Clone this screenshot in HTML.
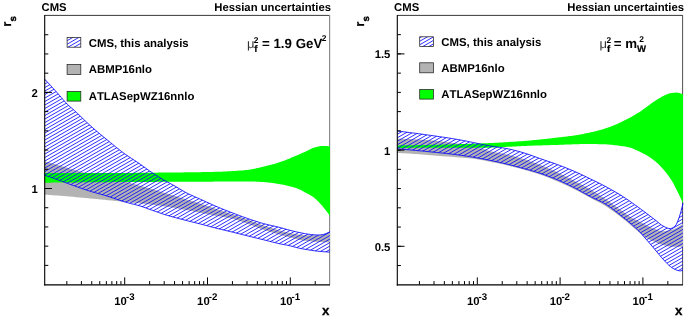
<!DOCTYPE html>
<html><head><meta charset="utf-8"><title>Hessian uncertainties</title>
<style>
html,body{margin:0;padding:0;background:#fff}
svg{display:block;will-change:transform}
text{font-family:"Liberation Sans",sans-serif;font-weight:bold;fill:#000;text-rendering:geometricPrecision;font-kerning:none}
.t{font-size:11.3px}
.lg{font-size:11.4px}
.sup{font-size:9.7px}
.xl{font-size:13.3px;stroke:#000;stroke-width:.3px}
.yl{font-size:12.8px;stroke:#000;stroke-width:.25px}
.ysub{font-size:9.6px;stroke:#000;stroke-width:.35px}
.big{font-size:13.3px}
.sup2{font-size:8.4px}
.sub2{font-size:9.6px;stroke:#000;stroke-width:.2px}
.mu{font-size:13px;font-weight:normal;fill:#333}
</style></head>
<body>
<svg width="685" height="321" viewBox="0 0 685 321">
<rect width="685" height="321" fill="#fff"/>
<path d="M44.7,15.4H329.60" fill="none" stroke="#222" stroke-width="0.9"/>
<path d="M329.60,15.0V284.6" fill="none" stroke="#8c8c8c" stroke-width="1.2"/>
<path d="M44.70,161.20 L46.20,161.64 L47.70,162.07 L49.20,162.51 L50.70,162.95 L52.20,163.38 L53.70,163.82 L55.20,164.25 L56.70,164.69 L58.20,165.13 L59.70,165.56 L61.20,166.00 L62.70,166.43 L64.20,166.87 L65.70,167.30 L67.20,167.75 L68.70,168.19 L70.20,168.64 L71.70,169.10 L73.20,169.55 L74.70,170.00 L76.20,170.44 L77.70,170.89 L79.20,171.32 L80.70,171.74 L82.20,172.16 L83.70,172.56 L85.20,172.95 L86.70,173.33 L88.20,173.70 L89.70,174.06 L91.20,174.41 L92.70,174.75 L94.20,175.09 L95.70,175.42 L97.20,175.75 L98.70,176.07 L100.20,176.39 L101.70,176.71 L103.20,177.02 L104.70,177.33 L106.20,177.64 L107.70,177.95 L109.20,178.26 L110.70,178.58 L112.20,178.89 L113.70,179.20 L115.20,179.52 L116.70,179.84 L118.20,180.17 L119.70,180.50 L121.20,180.84 L122.70,181.18 L124.20,181.53 L125.70,181.89 L127.20,182.25 L128.70,182.62 L130.20,183.01 L131.70,183.39 L133.20,183.79 L134.70,184.19 L136.20,184.59 L137.70,185.00 L139.20,185.42 L140.70,185.83 L142.20,186.25 L143.70,186.68 L145.20,187.10 L146.70,187.53 L148.20,187.96 L149.70,188.39 L151.20,188.82 L152.70,189.26 L154.20,189.71 L155.70,190.16 L157.20,190.61 L158.70,191.06 L160.20,191.52 L161.70,191.97 L163.20,192.43 L164.70,192.89 L166.20,193.34 L167.70,193.79 L169.20,194.24 L170.70,194.69 L172.20,195.14 L173.70,195.60 L175.20,196.05 L176.70,196.50 L178.20,196.95 L179.70,197.41 L181.20,197.86 L182.70,198.31 L184.20,198.76 L185.70,199.21 L187.20,199.66 L188.70,200.10 L190.20,200.54 L191.70,200.98 L193.20,201.42 L194.70,201.87 L196.20,202.31 L197.70,202.77 L199.20,203.23 L200.70,203.69 L202.20,204.17 L203.70,204.66 L205.20,205.16 L206.70,205.66 L208.20,206.16 L209.70,206.67 L211.20,207.18 L212.70,207.69 L214.20,208.20 L215.70,208.70 L217.20,209.20 L218.70,209.69 L220.20,210.18 L221.70,210.67 L223.20,211.16 L224.70,211.64 L226.20,212.14 L227.70,212.63 L229.20,213.13 L230.70,213.64 L232.20,214.15 L233.70,214.67 L235.20,215.19 L236.70,215.71 L238.20,216.24 L239.70,216.76 L241.20,217.30 L242.70,217.83 L244.20,218.37 L245.70,218.90 L247.20,219.44 L248.70,219.99 L250.20,220.55 L251.70,221.12 L253.20,221.69 L254.70,222.26 L256.20,222.83 L257.70,223.40 L259.20,223.95 L260.70,224.49 L262.20,225.02 L263.70,225.53 L265.20,226.02 L266.70,226.49 L268.20,226.95 L269.70,227.41 L271.20,227.87 L272.70,228.33 L274.20,228.79 L275.70,229.25 L277.20,229.70 L278.70,230.14 L280.20,230.57 L281.70,230.99 L283.20,231.38 L284.70,231.77 L286.20,232.15 L287.70,232.50 L289.20,232.83 L290.70,233.14 L292.20,233.44 L293.70,233.74 L295.20,234.01 L296.70,234.26 L298.20,234.47 L299.70,234.64 L301.20,234.80 L302.70,234.95 L304.20,235.09 L305.70,235.20 L307.20,235.27 L308.70,235.30 L310.20,235.30 L311.70,235.29 L313.20,235.28 L314.70,235.26 L316.20,235.24 L317.70,235.21 L319.20,235.13 L320.70,234.92 L322.20,234.62 L323.70,234.27 L325.20,233.85 L326.70,233.25 L328.20,232.51 L329.70,231.68 L330.00,231.50 L330.00,242.40 L329.70,242.39 L328.20,242.35 L326.70,242.30 L325.20,242.25 L323.70,242.18 L322.20,242.12 L320.70,242.04 L319.20,241.96 L317.70,241.88 L316.20,241.80 L314.70,241.70 L313.20,241.59 L311.70,241.47 L310.20,241.34 L308.70,241.20 L307.20,241.04 L305.70,240.85 L304.20,240.63 L302.70,240.40 L301.20,240.15 L299.70,239.88 L298.20,239.57 L296.70,239.22 L295.20,238.83 L293.70,238.41 L292.20,237.99 L290.70,237.58 L289.20,237.20 L287.70,236.82 L286.20,236.45 L284.70,236.08 L283.20,235.69 L281.70,235.28 L280.20,234.86 L278.70,234.43 L277.20,233.99 L275.70,233.54 L274.20,233.08 L272.70,232.63 L271.20,232.17 L269.70,231.71 L268.20,231.25 L266.70,230.79 L265.20,230.32 L263.70,229.83 L262.20,229.32 L260.70,228.78 L259.20,228.22 L257.70,227.64 L256.20,227.06 L254.70,226.47 L253.20,225.89 L251.70,225.31 L250.20,224.73 L248.70,224.18 L247.20,223.64 L245.70,223.12 L244.20,222.58 L242.70,222.04 L241.20,221.50 L239.70,220.97 L238.20,220.45 L236.70,219.95 L235.20,219.48 L233.70,219.03 L232.20,218.62 L230.70,218.26 L229.20,217.93 L227.70,217.65 L226.20,217.39 L224.70,217.15 L223.20,216.93 L221.70,216.71 L220.20,216.49 L218.70,216.25 L217.20,216.00 L215.70,215.73 L214.20,215.46 L212.70,215.18 L211.20,214.89 L209.70,214.61 L208.20,214.31 L206.70,214.02 L205.20,213.73 L203.70,213.44 L202.20,213.15 L200.70,212.86 L199.20,212.57 L197.70,212.28 L196.20,211.99 L194.70,211.70 L193.20,211.41 L191.70,211.12 L190.20,210.83 L188.70,210.55 L187.20,210.26 L185.70,209.98 L184.20,209.71 L182.70,209.44 L181.20,209.16 L179.70,208.89 L178.20,208.62 L176.70,208.35 L175.20,208.08 L173.70,207.82 L172.20,207.56 L170.70,207.31 L169.20,207.07 L167.70,206.84 L166.20,206.61 L164.70,206.39 L163.20,206.18 L161.70,205.97 L160.20,205.77 L158.70,205.57 L157.20,205.38 L155.70,205.19 L154.20,205.00 L152.70,204.82 L151.20,204.64 L149.70,204.46 L148.20,204.29 L146.70,204.12 L145.20,203.95 L143.70,203.79 L142.20,203.63 L140.70,203.47 L139.20,203.31 L137.70,203.15 L136.20,203.00 L134.70,202.84 L133.20,202.69 L131.70,202.54 L130.20,202.39 L128.70,202.24 L127.20,202.10 L125.70,201.95 L124.20,201.80 L122.70,201.66 L121.20,201.51 L119.70,201.36 L118.20,201.22 L116.70,201.07 L115.20,200.92 L113.70,200.77 L112.20,200.62 L110.70,200.47 L109.20,200.32 L107.70,200.17 L106.20,200.02 L104.70,199.87 L103.20,199.72 L101.70,199.57 L100.20,199.42 L98.70,199.27 L97.20,199.12 L95.70,198.97 L94.20,198.82 L92.70,198.68 L91.20,198.53 L89.70,198.39 L88.20,198.24 L86.70,198.10 L85.20,197.95 L83.70,197.81 L82.20,197.67 L80.70,197.54 L79.20,197.40 L77.70,197.26 L76.20,197.13 L74.70,197.00 L73.20,196.87 L71.70,196.74 L70.20,196.61 L68.70,196.48 L67.20,196.35 L65.70,196.23 L64.20,196.11 L62.70,195.98 L61.20,195.86 L59.70,195.74 L58.20,195.62 L56.70,195.51 L55.20,195.39 L53.70,195.27 L52.20,195.16 L50.70,195.04 L49.20,194.93 L47.70,194.82 L46.20,194.71 L44.70,194.60Z" fill="#b3b3b3"/>
<path d="M44.70,173.10 L46.20,173.10 L47.70,173.10 L49.20,173.10 L50.70,173.10 L52.20,173.10 L53.70,173.10 L55.20,173.10 L56.70,173.10 L58.20,173.10 L59.70,173.10 L61.20,173.10 L62.70,173.10 L64.20,173.10 L65.70,173.10 L67.20,173.10 L68.70,173.10 L70.20,173.10 L71.70,173.10 L73.20,173.10 L74.70,173.10 L76.20,173.10 L77.70,173.10 L79.20,173.10 L80.70,173.10 L82.20,173.10 L83.70,173.10 L85.20,173.10 L86.70,173.10 L88.20,173.10 L89.70,173.10 L91.20,173.10 L92.70,173.10 L94.20,173.10 L95.70,173.10 L97.20,173.10 L98.70,173.10 L100.20,173.10 L101.70,173.10 L103.20,173.10 L104.70,173.09 L106.20,173.09 L107.70,173.08 L109.20,173.08 L110.70,173.07 L112.20,173.06 L113.70,173.05 L115.20,173.04 L116.70,173.03 L118.20,173.02 L119.70,173.01 L121.20,173.00 L122.70,172.98 L124.20,172.97 L125.70,172.96 L127.20,172.94 L128.70,172.93 L130.20,172.91 L131.70,172.89 L133.20,172.88 L134.70,172.86 L136.20,172.85 L137.70,172.83 L139.20,172.81 L140.70,172.80 L142.20,172.78 L143.70,172.77 L145.20,172.75 L146.70,172.73 L148.20,172.72 L149.70,172.70 L151.20,172.69 L152.70,172.67 L154.20,172.66 L155.70,172.64 L157.20,172.63 L158.70,172.62 L160.20,172.60 L161.70,172.59 L163.20,172.57 L164.70,172.56 L166.20,172.55 L167.70,172.53 L169.20,172.52 L170.70,172.50 L172.20,172.49 L173.70,172.47 L175.20,172.46 L176.70,172.44 L178.20,172.43 L179.70,172.41 L181.20,172.39 L182.70,172.38 L184.20,172.36 L185.70,172.34 L187.20,172.32 L188.70,172.30 L190.20,172.28 L191.70,172.26 L193.20,172.24 L194.70,172.22 L196.20,172.20 L197.70,172.17 L199.20,172.15 L200.70,172.13 L202.20,172.10 L203.70,172.07 L205.20,172.05 L206.70,172.02 L208.20,171.99 L209.70,171.96 L211.20,171.93 L212.70,171.90 L214.20,171.86 L215.70,171.83 L217.20,171.80 L218.70,171.75 L220.20,171.70 L221.70,171.64 L223.20,171.57 L224.70,171.49 L226.20,171.41 L227.70,171.33 L229.20,171.24 L230.70,171.16 L232.20,171.08 L233.70,170.99 L235.20,170.91 L236.70,170.81 L238.20,170.72 L239.70,170.62 L241.20,170.50 L242.70,170.38 L244.20,170.25 L245.70,170.11 L247.20,169.96 L248.70,169.77 L250.20,169.54 L251.70,169.28 L253.20,168.99 L254.70,168.68 L256.20,168.34 L257.70,168.00 L259.20,167.65 L260.70,167.29 L262.20,166.93 L263.70,166.58 L265.20,166.22 L266.70,165.86 L268.20,165.49 L269.70,165.11 L271.20,164.71 L272.70,164.31 L274.20,163.89 L275.70,163.45 L277.20,163.01 L278.70,162.54 L280.20,162.07 L281.70,161.56 L283.20,161.03 L284.70,160.46 L286.20,159.87 L287.70,159.26 L289.20,158.64 L290.70,158.00 L292.20,157.35 L293.70,156.70 L295.20,156.06 L296.70,155.41 L298.20,154.77 L299.70,154.13 L301.20,153.47 L302.70,152.80 L304.20,152.13 L305.70,151.45 L307.20,150.72 L308.70,149.94 L310.20,149.15 L311.70,148.44 L313.20,147.85 L314.70,147.41 L316.20,147.00 L317.70,146.63 L319.20,146.32 L320.70,146.10 L322.20,146.00 L323.70,146.00 L325.20,146.02 L326.70,146.05 L328.20,146.13 L329.70,146.27 L330.00,146.30 L330.00,216.20 L329.70,215.76 L328.20,213.58 L326.70,211.50 L325.20,209.51 L323.70,207.63 L322.20,205.87 L320.70,204.17 L319.20,202.53 L317.70,200.97 L316.20,199.53 L314.70,198.24 L313.20,197.12 L311.70,196.12 L310.20,195.22 L308.70,194.37 L307.20,193.56 L305.70,192.75 L304.20,191.93 L302.70,191.10 L301.20,190.29 L299.70,189.54 L298.20,188.88 L296.70,188.33 L295.20,187.83 L293.70,187.37 L292.20,186.93 L290.70,186.52 L289.20,186.13 L287.70,185.77 L286.20,185.43 L284.70,185.11 L283.20,184.81 L281.70,184.53 L280.20,184.27 L278.70,184.01 L277.20,183.76 L275.70,183.52 L274.20,183.29 L272.70,183.07 L271.20,182.86 L269.70,182.67 L268.20,182.50 L266.70,182.35 L265.20,182.22 L263.70,182.11 L262.20,182.01 L260.70,181.92 L259.20,181.83 L257.70,181.74 L256.20,181.67 L254.70,181.59 L253.20,181.53 L251.70,181.48 L250.20,181.44 L248.70,181.41 L247.20,181.40 L245.70,181.40 L244.20,181.40 L242.70,181.40 L241.20,181.40 L239.70,181.40 L238.20,181.40 L236.70,181.40 L235.20,181.40 L233.70,181.40 L232.20,181.40 L230.70,181.40 L229.20,181.40 L227.70,181.41 L226.20,181.44 L224.70,181.46 L223.20,181.49 L221.70,181.53 L220.20,181.56 L218.70,181.58 L217.20,181.60 L215.70,181.61 L214.20,181.62 L212.70,181.63 L211.20,181.64 L209.70,181.65 L208.20,181.66 L206.70,181.67 L205.20,181.68 L203.70,181.69 L202.20,181.70 L200.70,181.70 L199.20,181.71 L197.70,181.72 L196.20,181.72 L194.70,181.73 L193.20,181.74 L191.70,181.74 L190.20,181.75 L188.70,181.75 L187.20,181.76 L185.70,181.77 L184.20,181.77 L182.70,181.78 L181.20,181.78 L179.70,181.79 L178.20,181.79 L176.70,181.80 L175.20,181.80 L173.70,181.81 L172.20,181.81 L170.70,181.82 L169.20,181.82 L167.70,181.83 L166.20,181.83 L164.70,181.84 L163.20,181.84 L161.70,181.85 L160.20,181.85 L158.70,181.86 L157.20,181.87 L155.70,181.87 L154.20,181.88 L152.70,181.89 L151.20,181.89 L149.70,181.90 L148.20,181.91 L146.70,181.92 L145.20,181.93 L143.70,181.93 L142.20,181.94 L140.70,181.95 L139.20,181.96 L137.70,181.97 L136.20,181.97 L134.70,181.98 L133.20,181.99 L131.70,182.00 L130.20,182.01 L128.70,182.02 L127.20,182.02 L125.70,182.03 L124.20,182.04 L122.70,182.05 L121.20,182.06 L119.70,182.07 L118.20,182.08 L116.70,182.09 L115.20,182.10 L113.70,182.11 L112.20,182.12 L110.70,182.13 L109.20,182.14 L107.70,182.15 L106.20,182.16 L104.70,182.17 L103.20,182.18 L101.70,182.19 L100.20,182.20 L98.70,182.21 L97.20,182.22 L95.70,182.23 L94.20,182.24 L92.70,182.25 L91.20,182.27 L89.70,182.28 L88.20,182.29 L86.70,182.30 L85.20,182.31 L83.70,182.33 L82.20,182.34 L80.70,182.35 L79.20,182.37 L77.70,182.38 L76.20,182.39 L74.70,182.40 L73.20,182.42 L71.70,182.43 L70.20,182.45 L68.70,182.46 L67.20,182.47 L65.70,182.49 L64.20,182.50 L62.70,182.52 L61.20,182.53 L59.70,182.55 L58.20,182.56 L56.70,182.58 L55.20,182.59 L53.70,182.61 L52.20,182.62 L50.70,182.64 L49.20,182.65 L47.70,182.67 L46.20,182.68 L44.70,182.70Z" fill="#00ff00"/>
<clipPath id="c44"><path d="M44.70,79.20 L46.20,80.80 L47.70,82.40 L49.20,84.01 L50.70,85.63 L52.20,87.26 L53.70,88.90 L55.20,90.54 L56.70,92.19 L58.20,93.87 L59.70,95.61 L61.20,97.37 L62.70,99.13 L64.20,100.86 L65.70,102.53 L67.20,104.11 L68.70,105.57 L70.20,106.90 L71.70,108.16 L73.20,109.44 L74.70,110.80 L76.20,112.19 L77.70,113.61 L79.20,115.04 L80.70,116.49 L82.20,117.94 L83.70,119.40 L85.20,120.84 L86.70,122.27 L88.20,123.68 L89.70,125.06 L91.20,126.42 L92.70,127.75 L94.20,129.06 L95.70,130.36 L97.20,131.64 L98.70,132.92 L100.20,134.17 L101.70,135.42 L103.20,136.65 L104.70,137.87 L106.20,139.09 L107.70,140.31 L109.20,141.53 L110.70,142.76 L112.20,143.99 L113.70,145.22 L115.20,146.44 L116.70,147.66 L118.20,148.86 L119.70,150.04 L121.20,151.20 L122.70,152.34 L124.20,153.45 L125.70,154.52 L127.20,155.56 L128.70,156.58 L130.20,157.58 L131.70,158.56 L133.20,159.54 L134.70,160.52 L136.20,161.50 L137.70,162.49 L139.20,163.50 L140.70,164.53 L142.20,165.59 L143.70,166.68 L145.20,167.77 L146.70,168.87 L148.20,169.95 L149.70,171.00 L151.20,172.01 L152.70,173.02 L154.20,174.01 L155.70,174.99 L157.20,175.95 L158.70,176.90 L160.20,177.83 L161.70,178.74 L163.20,179.64 L164.70,180.50 L166.20,181.34 L167.70,182.16 L169.20,182.97 L170.70,183.77 L172.20,184.58 L173.70,185.40 L175.20,186.24 L176.70,187.12 L178.20,188.02 L179.70,188.94 L181.20,189.85 L182.70,190.75 L184.20,191.62 L185.70,192.44 L187.20,193.21 L188.70,193.95 L190.20,194.65 L191.70,195.34 L193.20,196.01 L194.70,196.68 L196.20,197.33 L197.70,197.99 L199.20,198.66 L200.70,199.34 L202.20,200.02 L203.70,200.71 L205.20,201.41 L206.70,202.10 L208.20,202.79 L209.70,203.48 L211.20,204.16 L212.70,204.84 L214.20,205.50 L215.70,206.16 L217.20,206.80 L218.70,207.43 L220.20,208.05 L221.70,208.67 L223.20,209.28 L224.70,209.88 L226.20,210.48 L227.70,211.07 L229.20,211.65 L230.70,212.23 L232.20,212.81 L233.70,213.39 L235.20,213.96 L236.70,214.53 L238.20,215.09 L239.70,215.65 L241.20,216.21 L242.70,216.75 L244.20,217.29 L245.70,217.82 L247.20,218.34 L248.70,218.85 L250.20,219.37 L251.70,219.88 L253.20,220.38 L254.70,220.88 L256.20,221.37 L257.70,221.85 L259.20,222.32 L260.70,222.77 L262.20,223.21 L263.70,223.63 L265.20,224.02 L266.70,224.40 L268.20,224.76 L269.70,225.11 L271.20,225.45 L272.70,225.79 L274.20,226.12 L275.70,226.46 L277.20,226.81 L278.70,227.17 L280.20,227.55 L281.70,227.95 L283.20,228.37 L284.70,228.81 L286.20,229.25 L287.70,229.68 L289.20,230.09 L290.70,230.48 L292.20,230.86 L293.70,231.23 L295.20,231.59 L296.70,231.94 L298.20,232.27 L299.70,232.58 L301.20,232.89 L302.70,233.20 L304.20,233.49 L305.70,233.76 L307.20,234.00 L308.70,234.20 L310.20,234.38 L311.70,234.56 L313.20,234.72 L314.70,234.86 L316.20,234.95 L317.70,235.00 L319.20,234.97 L320.70,234.85 L322.20,234.67 L323.70,234.40 L325.20,233.91 L326.70,233.30 L328.20,232.62 L329.70,231.78 L330.00,231.60 L330.00,252.10 L329.70,252.09 L328.20,252.02 L326.70,251.93 L325.20,251.83 L323.70,251.72 L322.20,251.59 L320.70,251.46 L319.20,251.32 L317.70,251.17 L316.20,251.00 L314.70,250.81 L313.20,250.60 L311.70,250.37 L310.20,250.14 L308.70,249.90 L307.20,249.66 L305.70,249.41 L304.20,249.15 L302.70,248.88 L301.20,248.59 L299.70,248.28 L298.20,247.95 L296.70,247.57 L295.20,247.17 L293.70,246.75 L292.20,246.34 L290.70,245.96 L289.20,245.63 L287.70,245.32 L286.20,245.03 L284.70,244.75 L283.20,244.47 L281.70,244.17 L280.20,243.86 L278.70,243.52 L277.20,243.18 L275.70,242.82 L274.20,242.45 L272.70,242.08 L271.20,241.71 L269.70,241.33 L268.20,240.95 L266.70,240.57 L265.20,240.19 L263.70,239.82 L262.20,239.46 L260.70,239.09 L259.20,238.73 L257.70,238.36 L256.20,238.00 L254.70,237.63 L253.20,237.27 L251.70,236.90 L250.20,236.54 L248.70,236.17 L247.20,235.80 L245.70,235.43 L244.20,235.05 L242.70,234.68 L241.20,234.30 L239.70,233.92 L238.20,233.55 L236.70,233.17 L235.20,232.80 L233.70,232.43 L232.20,232.06 L230.70,231.69 L229.20,231.33 L227.70,230.97 L226.20,230.61 L224.70,230.24 L223.20,229.88 L221.70,229.52 L220.20,229.15 L218.70,228.78 L217.20,228.40 L215.70,228.02 L214.20,227.63 L212.70,227.24 L211.20,226.84 L209.70,226.45 L208.20,226.05 L206.70,225.65 L205.20,225.25 L203.70,224.86 L202.20,224.46 L200.70,224.08 L199.20,223.69 L197.70,223.32 L196.20,222.95 L194.70,222.58 L193.20,222.21 L191.70,221.84 L190.20,221.47 L188.70,221.10 L187.20,220.72 L185.70,220.34 L184.20,219.96 L182.70,219.56 L181.20,219.17 L179.70,218.78 L178.20,218.39 L176.70,217.99 L175.20,217.59 L173.70,217.18 L172.20,216.77 L170.70,216.34 L169.20,215.91 L167.70,215.47 L166.20,215.02 L164.70,214.55 L163.20,214.07 L161.70,213.57 L160.20,213.07 L158.70,212.55 L157.20,212.03 L155.70,211.51 L154.20,210.98 L152.70,210.45 L151.20,209.92 L149.70,209.39 L148.20,208.85 L146.70,208.29 L145.20,207.73 L143.70,207.18 L142.20,206.66 L140.70,206.17 L139.20,205.72 L137.70,205.29 L136.20,204.89 L134.70,204.50 L133.20,204.12 L131.70,203.75 L130.20,203.37 L128.70,202.99 L127.20,202.60 L125.70,202.19 L124.20,201.76 L122.70,201.30 L121.20,200.83 L119.70,200.33 L118.20,199.82 L116.70,199.31 L115.20,198.78 L113.70,198.26 L112.20,197.74 L110.70,197.23 L109.20,196.73 L107.70,196.26 L106.20,195.80 L104.70,195.35 L103.20,194.92 L101.70,194.50 L100.20,194.09 L98.70,193.68 L97.20,193.27 L95.70,192.85 L94.20,192.43 L92.70,191.99 L91.20,191.55 L89.70,191.08 L88.20,190.61 L86.70,190.12 L85.20,189.62 L83.70,189.12 L82.20,188.61 L80.70,188.09 L79.20,187.57 L77.70,187.05 L76.20,186.52 L74.70,185.99 L73.20,185.46 L71.70,184.92 L70.20,184.37 L68.70,183.82 L67.20,183.26 L65.70,182.70 L64.20,182.13 L62.70,181.57 L61.20,181.01 L59.70,180.45 L58.20,179.90 L56.70,179.36 L55.20,178.83 L53.70,178.30 L52.20,177.78 L50.70,177.25 L49.20,176.74 L47.70,176.22 L46.20,175.71 L44.70,175.20Z"/></clipPath>
<path d="M44.70,59.60L330.00,-104.02M44.70,63.10L330.00,-100.52M44.70,66.60L330.00,-97.02M44.70,70.10L330.00,-93.52M44.70,73.60L330.00,-90.02M44.70,77.10L330.00,-86.52M44.70,80.60L330.00,-83.02M44.70,84.10L330.00,-79.52M44.70,87.60L330.00,-76.02M44.70,91.10L330.00,-72.52M44.70,94.60L330.00,-69.02M44.70,98.10L330.00,-65.52M44.70,101.60L330.00,-62.02M44.70,105.10L330.00,-58.52M44.70,108.60L330.00,-55.02M44.70,112.10L330.00,-51.52M44.70,115.60L330.00,-48.02M44.70,119.10L330.00,-44.52M44.70,122.60L330.00,-41.02M44.70,126.10L330.00,-37.52M44.70,129.60L330.00,-34.02M44.70,133.10L330.00,-30.52M44.70,136.60L330.00,-27.02M44.70,140.10L330.00,-23.52M44.70,143.60L330.00,-20.02M44.70,147.10L330.00,-16.52M44.70,150.60L330.00,-13.02M44.70,154.10L330.00,-9.52M44.70,157.60L330.00,-6.02M44.70,161.10L330.00,-2.52M44.70,164.60L330.00,0.98M44.70,168.10L330.00,4.48M44.70,171.60L330.00,7.98M44.70,175.10L330.00,11.48M44.70,178.60L330.00,14.98M44.70,182.10L330.00,18.48M44.70,185.60L330.00,21.98M44.70,189.10L330.00,25.48M44.70,192.60L330.00,28.98M44.70,196.10L330.00,32.48M44.70,199.60L330.00,35.98M44.70,203.10L330.00,39.48M44.70,206.60L330.00,42.98M44.70,210.10L330.00,46.48M44.70,213.60L330.00,49.98M44.70,217.10L330.00,53.48M44.70,220.60L330.00,56.98M44.70,224.10L330.00,60.48M44.70,227.60L330.00,63.98M44.70,231.10L330.00,67.48M44.70,234.60L330.00,70.98M44.70,238.10L330.00,74.48M44.70,241.60L330.00,77.98M44.70,245.10L330.00,81.48M44.70,248.60L330.00,84.98M44.70,252.10L330.00,88.48M44.70,255.60L330.00,91.98M44.70,259.10L330.00,95.48M44.70,262.60L330.00,98.98M44.70,266.10L330.00,102.48M44.70,269.60L330.00,105.98M44.70,273.10L330.00,109.48M44.70,276.60L330.00,112.98M44.70,280.10L330.00,116.48M44.70,283.60L330.00,119.98M44.70,287.10L330.00,123.48M44.70,290.60L330.00,126.98M44.70,294.10L330.00,130.48M44.70,297.60L330.00,133.98M44.70,301.10L330.00,137.48M44.70,304.60L330.00,140.98M44.70,308.10L330.00,144.48M44.70,311.60L330.00,147.98M44.70,315.10L330.00,151.48M44.70,318.60L330.00,154.98M44.70,322.10L330.00,158.48M44.70,325.60L330.00,161.98M44.70,329.10L330.00,165.48M44.70,332.60L330.00,168.98M44.70,336.10L330.00,172.48M44.70,339.60L330.00,175.98M44.70,343.10L330.00,179.48M44.70,346.60L330.00,182.98M44.70,350.10L330.00,186.48M44.70,353.60L330.00,189.98M44.70,357.10L330.00,193.48M44.70,360.60L330.00,196.98M44.70,364.10L330.00,200.48M44.70,367.60L330.00,203.98M44.70,371.10L330.00,207.48M44.70,374.60L330.00,210.98M44.70,378.10L330.00,214.48M44.70,381.60L330.00,217.98M44.70,385.10L330.00,221.48M44.70,388.60L330.00,224.98M44.70,392.10L330.00,228.48M44.70,395.60L330.00,231.98M44.70,399.10L330.00,235.48M44.70,402.60L330.00,238.98M44.70,406.10L330.00,242.48M44.70,409.60L330.00,245.98M44.70,413.10L330.00,249.48M44.70,416.60L330.00,252.98M44.70,420.10L330.00,256.48M44.70,423.60L330.00,259.98M44.70,427.10L330.00,263.48M44.70,430.60L330.00,266.98M44.70,434.10L330.00,270.48M44.70,437.60L330.00,273.98M44.70,441.10L330.00,277.48M44.70,444.60L330.00,280.98M44.70,448.10L330.00,284.48M44.70,451.60L330.00,287.98M44.70,455.10L330.00,291.48" clip-path="url(#c44)" fill="none" stroke="#0000ff" stroke-width="0.82"/>
<path d="M44.70,79.20 L46.20,80.80 L47.70,82.40 L49.20,84.01 L50.70,85.63 L52.20,87.26 L53.70,88.90 L55.20,90.54 L56.70,92.19 L58.20,93.87 L59.70,95.61 L61.20,97.37 L62.70,99.13 L64.20,100.86 L65.70,102.53 L67.20,104.11 L68.70,105.57 L70.20,106.90 L71.70,108.16 L73.20,109.44 L74.70,110.80 L76.20,112.19 L77.70,113.61 L79.20,115.04 L80.70,116.49 L82.20,117.94 L83.70,119.40 L85.20,120.84 L86.70,122.27 L88.20,123.68 L89.70,125.06 L91.20,126.42 L92.70,127.75 L94.20,129.06 L95.70,130.36 L97.20,131.64 L98.70,132.92 L100.20,134.17 L101.70,135.42 L103.20,136.65 L104.70,137.87 L106.20,139.09 L107.70,140.31 L109.20,141.53 L110.70,142.76 L112.20,143.99 L113.70,145.22 L115.20,146.44 L116.70,147.66 L118.20,148.86 L119.70,150.04 L121.20,151.20 L122.70,152.34 L124.20,153.45 L125.70,154.52 L127.20,155.56 L128.70,156.58 L130.20,157.58 L131.70,158.56 L133.20,159.54 L134.70,160.52 L136.20,161.50 L137.70,162.49 L139.20,163.50 L140.70,164.53 L142.20,165.59 L143.70,166.68 L145.20,167.77 L146.70,168.87 L148.20,169.95 L149.70,171.00 L151.20,172.01 L152.70,173.02 L154.20,174.01 L155.70,174.99 L157.20,175.95 L158.70,176.90 L160.20,177.83 L161.70,178.74 L163.20,179.64 L164.70,180.50 L166.20,181.34 L167.70,182.16 L169.20,182.97 L170.70,183.77 L172.20,184.58 L173.70,185.40 L175.20,186.24 L176.70,187.12 L178.20,188.02 L179.70,188.94 L181.20,189.85 L182.70,190.75 L184.20,191.62 L185.70,192.44 L187.20,193.21 L188.70,193.95 L190.20,194.65 L191.70,195.34 L193.20,196.01 L194.70,196.68 L196.20,197.33 L197.70,197.99 L199.20,198.66 L200.70,199.34 L202.20,200.02 L203.70,200.71 L205.20,201.41 L206.70,202.10 L208.20,202.79 L209.70,203.48 L211.20,204.16 L212.70,204.84 L214.20,205.50 L215.70,206.16 L217.20,206.80 L218.70,207.43 L220.20,208.05 L221.70,208.67 L223.20,209.28 L224.70,209.88 L226.20,210.48 L227.70,211.07 L229.20,211.65 L230.70,212.23 L232.20,212.81 L233.70,213.39 L235.20,213.96 L236.70,214.53 L238.20,215.09 L239.70,215.65 L241.20,216.21 L242.70,216.75 L244.20,217.29 L245.70,217.82 L247.20,218.34 L248.70,218.85 L250.20,219.37 L251.70,219.88 L253.20,220.38 L254.70,220.88 L256.20,221.37 L257.70,221.85 L259.20,222.32 L260.70,222.77 L262.20,223.21 L263.70,223.63 L265.20,224.02 L266.70,224.40 L268.20,224.76 L269.70,225.11 L271.20,225.45 L272.70,225.79 L274.20,226.12 L275.70,226.46 L277.20,226.81 L278.70,227.17 L280.20,227.55 L281.70,227.95 L283.20,228.37 L284.70,228.81 L286.20,229.25 L287.70,229.68 L289.20,230.09 L290.70,230.48 L292.20,230.86 L293.70,231.23 L295.20,231.59 L296.70,231.94 L298.20,232.27 L299.70,232.58 L301.20,232.89 L302.70,233.20 L304.20,233.49 L305.70,233.76 L307.20,234.00 L308.70,234.20 L310.20,234.38 L311.70,234.56 L313.20,234.72 L314.70,234.86 L316.20,234.95 L317.70,235.00 L319.20,234.97 L320.70,234.85 L322.20,234.67 L323.70,234.40 L325.20,233.91 L326.70,233.30 L328.20,232.62 L329.70,231.78 L330.00,231.60" fill="none" stroke="#0000ff" stroke-width="0.85"/>
<path d="M44.70,175.20 L46.20,175.71 L47.70,176.22 L49.20,176.74 L50.70,177.25 L52.20,177.78 L53.70,178.30 L55.20,178.83 L56.70,179.36 L58.20,179.90 L59.70,180.45 L61.20,181.01 L62.70,181.57 L64.20,182.13 L65.70,182.70 L67.20,183.26 L68.70,183.82 L70.20,184.37 L71.70,184.92 L73.20,185.46 L74.70,185.99 L76.20,186.52 L77.70,187.05 L79.20,187.57 L80.70,188.09 L82.20,188.61 L83.70,189.12 L85.20,189.62 L86.70,190.12 L88.20,190.61 L89.70,191.08 L91.20,191.55 L92.70,191.99 L94.20,192.43 L95.70,192.85 L97.20,193.27 L98.70,193.68 L100.20,194.09 L101.70,194.50 L103.20,194.92 L104.70,195.35 L106.20,195.80 L107.70,196.26 L109.20,196.73 L110.70,197.23 L112.20,197.74 L113.70,198.26 L115.20,198.78 L116.70,199.31 L118.20,199.82 L119.70,200.33 L121.20,200.83 L122.70,201.30 L124.20,201.76 L125.70,202.19 L127.20,202.60 L128.70,202.99 L130.20,203.37 L131.70,203.75 L133.20,204.12 L134.70,204.50 L136.20,204.89 L137.70,205.29 L139.20,205.72 L140.70,206.17 L142.20,206.66 L143.70,207.18 L145.20,207.73 L146.70,208.29 L148.20,208.85 L149.70,209.39 L151.20,209.92 L152.70,210.45 L154.20,210.98 L155.70,211.51 L157.20,212.03 L158.70,212.55 L160.20,213.07 L161.70,213.57 L163.20,214.07 L164.70,214.55 L166.20,215.02 L167.70,215.47 L169.20,215.91 L170.70,216.34 L172.20,216.77 L173.70,217.18 L175.20,217.59 L176.70,217.99 L178.20,218.39 L179.70,218.78 L181.20,219.17 L182.70,219.56 L184.20,219.96 L185.70,220.34 L187.20,220.72 L188.70,221.10 L190.20,221.47 L191.70,221.84 L193.20,222.21 L194.70,222.58 L196.20,222.95 L197.70,223.32 L199.20,223.69 L200.70,224.08 L202.20,224.46 L203.70,224.86 L205.20,225.25 L206.70,225.65 L208.20,226.05 L209.70,226.45 L211.20,226.84 L212.70,227.24 L214.20,227.63 L215.70,228.02 L217.20,228.40 L218.70,228.78 L220.20,229.15 L221.70,229.52 L223.20,229.88 L224.70,230.24 L226.20,230.61 L227.70,230.97 L229.20,231.33 L230.70,231.69 L232.20,232.06 L233.70,232.43 L235.20,232.80 L236.70,233.17 L238.20,233.55 L239.70,233.92 L241.20,234.30 L242.70,234.68 L244.20,235.05 L245.70,235.43 L247.20,235.80 L248.70,236.17 L250.20,236.54 L251.70,236.90 L253.20,237.27 L254.70,237.63 L256.20,238.00 L257.70,238.36 L259.20,238.73 L260.70,239.09 L262.20,239.46 L263.70,239.82 L265.20,240.19 L266.70,240.57 L268.20,240.95 L269.70,241.33 L271.20,241.71 L272.70,242.08 L274.20,242.45 L275.70,242.82 L277.20,243.18 L278.70,243.52 L280.20,243.86 L281.70,244.17 L283.20,244.47 L284.70,244.75 L286.20,245.03 L287.70,245.32 L289.20,245.63 L290.70,245.96 L292.20,246.34 L293.70,246.75 L295.20,247.17 L296.70,247.57 L298.20,247.95 L299.70,248.28 L301.20,248.59 L302.70,248.88 L304.20,249.15 L305.70,249.41 L307.20,249.66 L308.70,249.90 L310.20,250.14 L311.70,250.37 L313.20,250.60 L314.70,250.81 L316.20,251.00 L317.70,251.17 L319.20,251.32 L320.70,251.46 L322.20,251.59 L323.70,251.72 L325.20,251.83 L326.70,251.93 L328.20,252.02 L329.70,252.09 L330.00,252.10" fill="none" stroke="#0000ff" stroke-width="0.85"/>
<path d="M44.7,265.38h3.6M44.7,246.16h3.6M44.7,226.94h3.6M44.7,207.72h3.6M44.7,188.50h3.6M44.7,169.28h3.6M44.7,150.06h3.6M44.7,130.84h3.6M44.7,111.62h3.6M44.7,92.40h3.6M44.7,73.18h3.6M44.7,53.96h3.6M44.7,34.74h3.6M44.7,188.50h7.2M44.7,92.40h7.2M66.83,284.6v-3.5M81.41,284.6v-3.5M91.75,284.6v-3.5M99.77,284.6v-3.5M106.33,284.6v-3.5M111.87,284.6v-3.5M116.68,284.6v-3.5M120.91,284.6v-3.5M124.70,284.6v-7.2M149.63,284.6v-3.5M164.21,284.6v-3.5M174.55,284.6v-3.5M182.57,284.6v-3.5M189.13,284.6v-3.5M194.67,284.6v-3.5M199.48,284.6v-3.5M203.71,284.6v-3.5M207.50,284.6v-7.2M232.43,284.6v-3.5M247.01,284.6v-3.5M257.35,284.6v-3.5M265.37,284.6v-3.5M271.93,284.6v-3.5M277.47,284.6v-3.5M282.28,284.6v-3.5M286.51,284.6v-3.5M290.30,284.6v-7.2M315.23,284.6v-3.5" fill="none" stroke="#000" stroke-width="1"/>
<path d="M44.7,15.0V285.40000000000003" fill="none" stroke="#000" stroke-width="1.1"/>
<path d="M44.2,284.85H330.0" fill="none" stroke="#000" stroke-width="1.2"/>
<text x="37.8" y="96.8" text-anchor="end" class="t">2</text>
<text x="37.8" y="192.9" text-anchor="end" class="t">1</text>
<text x="126.9" y="304.9" text-anchor="end" class="t">10</text>
<text x="126.0" y="299.5" class="sup">-3</text>
<text x="209.7" y="304.9" text-anchor="end" class="t">10</text>
<text x="208.8" y="299.5" class="sup">-2</text>
<text x="292.5" y="304.9" text-anchor="end" class="t">10</text>
<text x="291.6" y="299.5" class="sup">-1</text>
<text x="329.4" y="315.2" text-anchor="end" class="xl">x</text>
<text x="41.5" y="11.20" class="t">CMS</text>
<text x="331.0" y="11.20" text-anchor="end" class="t">Hessian uncertainties</text>
<g transform="translate(11.3,26.8) rotate(-90)"><text x="0" y="0" class="yl">r</text><text x="5.4" y="4.6" class="ysub">s</text></g>
<clipPath id="c44l"><rect x="67.1" y="37.50" width="13.7" height="9.7"/></clipPath>
<path d="M67.10,33.69L80.80,25.84M67.10,37.19L80.80,29.34M67.10,40.69L80.80,32.84M67.10,44.19L80.80,36.34M67.10,47.69L80.80,39.84M67.10,51.19L80.80,43.34M67.10,54.69L80.80,46.84M67.10,58.19L80.80,50.34" clip-path="url(#c44l)" fill="none" stroke="#0000ff" stroke-width="0.82"/>
<rect x="67.1" y="37.50" width="13.7" height="9.7" fill="none" stroke="#222" stroke-width="0.75"/>
<rect x="67.1" y="64.40" width="13.7" height="10" fill="#b3b3b3" stroke="#222" stroke-width="0.75"/>
<rect x="67.1" y="91.50" width="13.7" height="9.6" fill="#00ff00" stroke="#222" stroke-width="0.75"/>
<text x="88.7" y="46.50" class="lg">CMS, this analysis</text>
<text x="88.7" y="73.30" class="lg">ABMP16nlo</text>
<text x="88.7" y="100.10" class="lg">ATLASepWZ16nnlo</text>
<text x="247.0" y="47.7" class="mu">μ</text><text x="253.8" y="42.6" class="sup2">2</text><text x="254.3" y="52" class="sub2">f</text><text x="262.0" y="47.7" class="big">= 1.9 GeV</text><text x="321.8" y="41.2" class="sup2">2</text>
<path d="M397.3,15.4H682.60" fill="none" stroke="#222" stroke-width="0.9"/>
<path d="M682.60,15.0V284.6" fill="none" stroke="#505050" stroke-width="1.0"/>
<path d="M397.30,138.70 L398.80,138.72 L400.30,138.75 L401.80,138.79 L403.30,138.83 L404.80,138.88 L406.30,138.93 L407.80,138.99 L409.30,139.05 L410.80,139.12 L412.30,139.19 L413.80,139.26 L415.30,139.34 L416.80,139.42 L418.30,139.50 L419.80,139.58 L421.30,139.67 L422.80,139.75 L424.30,139.84 L425.80,139.94 L427.30,140.05 L428.80,140.16 L430.30,140.29 L431.80,140.42 L433.30,140.56 L434.80,140.70 L436.30,140.86 L437.80,141.01 L439.30,141.18 L440.80,141.35 L442.30,141.52 L443.80,141.70 L445.30,141.88 L446.80,142.07 L448.30,142.27 L449.80,142.47 L451.30,142.68 L452.80,142.90 L454.30,143.12 L455.80,143.35 L457.30,143.58 L458.80,143.83 L460.30,144.07 L461.80,144.33 L463.30,144.59 L464.80,144.86 L466.30,145.14 L467.80,145.42 L469.30,145.71 L470.80,146.01 L472.30,146.32 L473.80,146.63 L475.30,146.95 L476.80,147.28 L478.30,147.62 L479.80,147.97 L481.30,148.32 L482.80,148.76 L484.30,149.25 L485.80,149.77 L487.30,150.29 L488.80,150.77 L490.30,151.17 L491.80,151.53 L493.30,151.86 L494.80,152.16 L496.30,152.46 L497.80,152.73 L499.30,153.01 L500.80,153.28 L502.30,153.56 L503.80,153.86 L505.30,154.17 L506.80,154.50 L508.30,154.85 L509.80,155.21 L511.30,155.58 L512.80,155.96 L514.30,156.35 L515.80,156.75 L517.30,157.16 L518.80,157.58 L520.30,158.02 L521.80,158.46 L523.30,158.91 L524.80,159.37 L526.30,159.86 L527.80,160.35 L529.30,160.87 L530.80,161.39 L532.30,161.93 L533.80,162.48 L535.30,163.04 L536.80,163.61 L538.30,164.19 L539.80,164.77 L541.30,165.35 L542.80,165.95 L544.30,166.56 L545.80,167.18 L547.30,167.80 L548.80,168.44 L550.30,169.09 L551.80,169.75 L553.30,170.42 L554.80,171.10 L556.30,171.78 L557.80,172.48 L559.30,173.19 L560.80,173.92 L562.30,174.66 L563.80,175.42 L565.30,176.18 L566.80,176.96 L568.30,177.73 L569.80,178.51 L571.30,179.30 L572.80,180.08 L574.30,180.86 L575.80,181.63 L577.30,182.39 L578.80,183.16 L580.30,183.93 L581.80,184.70 L583.30,185.48 L584.80,186.27 L586.30,187.08 L587.80,187.90 L589.30,188.74 L590.80,189.60 L592.30,190.49 L593.80,191.41 L595.30,192.35 L596.80,193.31 L598.30,194.28 L599.80,195.27 L601.30,196.27 L602.80,197.28 L604.30,198.30 L605.80,199.32 L607.30,200.36 L608.80,201.41 L610.30,202.48 L611.80,203.55 L613.30,204.64 L614.80,205.73 L616.30,206.82 L617.80,207.91 L619.30,208.99 L620.80,210.07 L622.30,211.15 L623.80,212.26 L625.30,213.38 L626.80,214.48 L628.30,215.53 L629.80,216.50 L631.30,217.39 L632.80,218.21 L634.30,219.01 L635.80,219.77 L637.30,220.54 L638.80,221.31 L640.30,222.08 L641.80,222.84 L643.30,223.59 L644.80,224.33 L646.30,225.06 L647.80,225.78 L649.30,226.52 L650.80,227.25 L652.30,227.94 L653.80,228.57 L655.30,229.10 L656.80,229.63 L658.30,230.16 L659.80,230.63 L661.30,230.99 L662.80,231.18 L664.30,231.17 L665.80,231.03 L667.30,230.78 L668.80,230.46 L670.30,230.09 L671.80,229.70 L673.30,229.24 L674.80,228.64 L676.30,227.93 L677.80,227.11 L679.30,226.19 L680.80,225.19 L682.30,224.12 L683.00,223.60 L683.00,246.80 L682.30,246.80 L680.80,246.80 L679.30,246.80 L677.80,246.80 L676.30,246.80 L674.80,246.80 L673.30,246.80 L671.80,246.80 L670.30,246.72 L668.80,246.51 L667.30,246.20 L665.80,245.83 L664.30,245.43 L662.80,245.04 L661.30,244.56 L659.80,244.01 L658.30,243.40 L656.80,242.76 L655.30,242.12 L653.80,241.51 L652.30,240.90 L650.80,240.27 L649.30,239.60 L647.80,238.86 L646.30,238.02 L644.80,237.01 L643.30,235.85 L641.80,234.58 L640.30,233.28 L638.80,232.00 L637.30,230.76 L635.80,229.52 L634.30,228.25 L632.80,226.97 L631.30,225.69 L629.80,224.41 L628.30,223.13 L626.80,221.86 L625.30,220.62 L623.80,219.39 L622.30,218.20 L620.80,217.04 L619.30,215.89 L617.80,214.74 L616.30,213.61 L614.80,212.49 L613.30,211.38 L611.80,210.30 L610.30,209.24 L608.80,208.21 L607.30,207.21 L605.80,206.24 L604.30,205.32 L602.80,204.43 L601.30,203.59 L599.80,202.78 L598.30,201.98 L596.80,201.21 L595.30,200.44 L593.80,199.67 L592.30,198.89 L590.80,198.10 L589.30,197.29 L587.80,196.48 L586.30,195.65 L584.80,194.83 L583.30,194.01 L581.80,193.19 L580.30,192.38 L578.80,191.58 L577.30,190.79 L575.80,190.01 L574.30,189.25 L572.80,188.51 L571.30,187.77 L569.80,187.04 L568.30,186.32 L566.80,185.61 L565.30,184.91 L563.80,184.22 L562.30,183.54 L560.80,182.87 L559.30,182.21 L557.80,181.56 L556.30,180.92 L554.80,180.28 L553.30,179.65 L551.80,179.03 L550.30,178.42 L548.80,177.82 L547.30,177.23 L545.80,176.65 L544.30,176.08 L542.80,175.54 L541.30,175.01 L539.80,174.50 L538.30,174.00 L536.80,173.53 L535.30,173.06 L533.80,172.61 L532.30,172.16 L530.80,171.73 L529.30,171.30 L527.80,170.87 L526.30,170.45 L524.80,170.03 L523.30,169.62 L521.80,169.20 L520.30,168.78 L518.80,168.37 L517.30,167.96 L515.80,167.56 L514.30,167.16 L512.80,166.77 L511.30,166.39 L509.80,166.02 L508.30,165.65 L506.80,165.30 L505.30,164.96 L503.80,164.62 L502.30,164.30 L500.80,163.98 L499.30,163.66 L497.80,163.35 L496.30,163.05 L494.80,162.75 L493.30,162.45 L491.80,162.16 L490.30,161.86 L488.80,161.56 L487.30,161.25 L485.80,160.94 L484.30,160.62 L482.80,160.31 L481.30,160.01 L479.80,159.72 L478.30,159.45 L476.80,159.19 L475.30,158.97 L473.80,158.78 L472.30,158.60 L470.80,158.44 L469.30,158.30 L467.80,158.16 L466.30,158.03 L464.80,157.90 L463.30,157.78 L461.80,157.67 L460.30,157.55 L458.80,157.43 L457.30,157.31 L455.80,157.19 L454.30,157.07 L452.80,156.95 L451.30,156.83 L449.80,156.72 L448.30,156.61 L446.80,156.49 L445.30,156.38 L443.80,156.27 L442.30,156.15 L440.80,156.03 L439.30,155.91 L437.80,155.79 L436.30,155.66 L434.80,155.53 L433.30,155.40 L431.80,155.27 L430.30,155.14 L428.80,155.01 L427.30,154.89 L425.80,154.77 L424.30,154.65 L422.80,154.54 L421.30,154.43 L419.80,154.32 L418.30,154.22 L416.80,154.11 L415.30,154.01 L413.80,153.91 L412.30,153.81 L410.80,153.71 L409.30,153.61 L407.80,153.51 L406.30,153.42 L404.80,153.33 L403.30,153.24 L401.80,153.15 L400.30,153.06 L398.80,152.98 L397.30,152.90Z" fill="#b3b3b3"/>
<path d="M397.30,145.40 L398.80,145.38 L400.30,145.36 L401.80,145.35 L403.30,145.33 L404.80,145.31 L406.30,145.28 L407.80,145.26 L409.30,145.24 L410.80,145.22 L412.30,145.19 L413.80,145.17 L415.30,145.15 L416.80,145.12 L418.30,145.09 L419.80,145.07 L421.30,145.04 L422.80,145.01 L424.30,144.99 L425.80,144.96 L427.30,144.93 L428.80,144.90 L430.30,144.87 L431.80,144.84 L433.30,144.81 L434.80,144.77 L436.30,144.74 L437.80,144.70 L439.30,144.67 L440.80,144.63 L442.30,144.60 L443.80,144.56 L445.30,144.52 L446.80,144.48 L448.30,144.44 L449.80,144.40 L451.30,144.36 L452.80,144.32 L454.30,144.28 L455.80,144.24 L457.30,144.20 L458.80,144.15 L460.30,144.11 L461.80,144.07 L463.30,144.02 L464.80,143.97 L466.30,143.93 L467.80,143.88 L469.30,143.83 L470.80,143.78 L472.30,143.73 L473.80,143.68 L475.30,143.62 L476.80,143.57 L478.30,143.51 L479.80,143.46 L481.30,143.40 L482.80,143.34 L484.30,143.28 L485.80,143.22 L487.30,143.15 L488.80,143.09 L490.30,143.02 L491.80,142.95 L493.30,142.88 L494.80,142.81 L496.30,142.74 L497.80,142.66 L499.30,142.58 L500.80,142.50 L502.30,142.42 L503.80,142.33 L505.30,142.24 L506.80,142.15 L508.30,142.06 L509.80,141.96 L511.30,141.87 L512.80,141.77 L514.30,141.67 L515.80,141.57 L517.30,141.46 L518.80,141.35 L520.30,141.25 L521.80,141.14 L523.30,141.02 L524.80,140.91 L526.30,140.79 L527.80,140.66 L529.30,140.53 L530.80,140.40 L532.30,140.26 L533.80,140.12 L535.30,139.97 L536.80,139.82 L538.30,139.67 L539.80,139.52 L541.30,139.36 L542.80,139.20 L544.30,139.04 L545.80,138.88 L547.30,138.71 L548.80,138.55 L550.30,138.38 L551.80,138.21 L553.30,138.04 L554.80,137.87 L556.30,137.70 L557.80,137.53 L559.30,137.36 L560.80,137.19 L562.30,137.02 L563.80,136.84 L565.30,136.66 L566.80,136.48 L568.30,136.29 L569.80,136.09 L571.30,135.89 L572.80,135.68 L574.30,135.46 L575.80,135.22 L577.30,134.98 L578.80,134.73 L580.30,134.47 L581.80,134.19 L583.30,133.91 L584.80,133.61 L586.30,133.31 L587.80,133.00 L589.30,132.68 L590.80,132.35 L592.30,132.01 L593.80,131.65 L595.30,131.29 L596.80,130.91 L598.30,130.52 L599.80,130.11 L601.30,129.69 L602.80,129.25 L604.30,128.79 L605.80,128.32 L607.30,127.81 L608.80,127.28 L610.30,126.72 L611.80,126.14 L613.30,125.54 L614.80,124.92 L616.30,124.28 L617.80,123.63 L619.30,122.96 L620.80,122.28 L622.30,121.58 L623.80,120.86 L625.30,120.11 L626.80,119.34 L628.30,118.54 L629.80,117.72 L631.30,116.88 L632.80,116.03 L634.30,115.15 L635.80,114.26 L637.30,113.35 L638.80,112.43 L640.30,111.45 L641.80,110.43 L643.30,109.36 L644.80,108.28 L646.30,107.17 L647.80,106.06 L649.30,104.96 L650.80,103.87 L652.30,102.81 L653.80,101.78 L655.30,100.81 L656.80,99.84 L658.30,98.87 L659.80,97.94 L661.30,97.07 L662.80,96.28 L664.30,95.58 L665.80,94.87 L667.30,94.20 L668.80,93.61 L670.30,93.16 L671.80,92.90 L673.30,92.77 L674.80,92.66 L676.30,92.61 L677.80,92.65 L679.30,92.92 L680.80,93.38 L682.30,93.98 L683.00,94.30 L683.00,203.60 L682.30,201.99 L680.80,198.62 L679.30,195.37 L677.80,192.23 L676.30,189.19 L674.80,186.20 L673.30,183.36 L671.80,180.80 L670.30,178.49 L668.80,176.32 L667.30,174.29 L665.80,172.37 L664.30,170.55 L662.80,168.82 L661.30,167.16 L659.80,165.57 L658.30,164.07 L656.80,162.66 L655.30,161.35 L653.80,160.13 L652.30,158.98 L650.80,157.90 L649.30,156.88 L647.80,155.92 L646.30,155.03 L644.80,154.19 L643.30,153.41 L641.80,152.66 L640.30,151.95 L638.80,151.27 L637.30,150.59 L635.80,149.91 L634.30,149.23 L632.80,148.60 L631.30,148.05 L629.80,147.60 L628.30,147.23 L626.80,146.91 L625.30,146.62 L623.80,146.36 L622.30,146.13 L620.80,145.92 L619.30,145.71 L617.80,145.51 L616.30,145.32 L614.80,145.13 L613.30,144.96 L611.80,144.80 L610.30,144.66 L608.80,144.53 L607.30,144.43 L605.80,144.35 L604.30,144.29 L602.80,144.25 L601.30,144.21 L599.80,144.17 L598.30,144.13 L596.80,144.10 L595.30,144.07 L593.80,144.05 L592.30,144.03 L590.80,144.01 L589.30,144.00 L587.80,144.00 L586.30,144.00 L584.80,144.02 L583.30,144.04 L581.80,144.06 L580.30,144.09 L578.80,144.13 L577.30,144.17 L575.80,144.22 L574.30,144.27 L572.80,144.32 L571.30,144.38 L569.80,144.43 L568.30,144.49 L566.80,144.55 L565.30,144.61 L563.80,144.67 L562.30,144.72 L560.80,144.78 L559.30,144.83 L557.80,144.88 L556.30,144.93 L554.80,144.97 L553.30,145.02 L551.80,145.06 L550.30,145.11 L548.80,145.15 L547.30,145.20 L545.80,145.24 L544.30,145.29 L542.80,145.34 L541.30,145.38 L539.80,145.43 L538.30,145.48 L536.80,145.52 L535.30,145.57 L533.80,145.62 L532.30,145.67 L530.80,145.73 L529.30,145.78 L527.80,145.84 L526.30,145.89 L524.80,145.95 L523.30,146.01 L521.80,146.08 L520.30,146.15 L518.80,146.23 L517.30,146.30 L515.80,146.39 L514.30,146.47 L512.80,146.55 L511.30,146.64 L509.80,146.72 L508.30,146.80 L506.80,146.87 L505.30,146.94 L503.80,147.01 L502.30,147.07 L500.80,147.14 L499.30,147.21 L497.80,147.28 L496.30,147.35 L494.80,147.42 L493.30,147.48 L491.80,147.54 L490.30,147.60 L488.80,147.66 L487.30,147.70 L485.80,147.74 L484.30,147.77 L482.80,147.79 L481.30,147.80 L479.80,147.80 L478.30,147.80 L476.80,147.80 L475.30,147.80 L473.80,147.79 L472.30,147.79 L470.80,147.78 L469.30,147.78 L467.80,147.78 L466.30,147.77 L464.80,147.77 L463.30,147.76 L461.80,147.76 L460.30,147.75 L458.80,147.74 L457.30,147.74 L455.80,147.73 L454.30,147.73 L452.80,147.72 L451.30,147.72 L449.80,147.71 L448.30,147.71 L446.80,147.71 L445.30,147.70 L443.80,147.70 L442.30,147.70 L440.80,147.70 L439.30,147.70 L437.80,147.70 L436.30,147.70 L434.80,147.71 L433.30,147.71 L431.80,147.71 L430.30,147.72 L428.80,147.73 L427.30,147.73 L425.80,147.74 L424.30,147.75 L422.80,147.76 L421.30,147.77 L419.80,147.78 L418.30,147.79 L416.80,147.80 L415.30,147.81 L413.80,147.83 L412.30,147.84 L410.80,147.85 L409.30,147.87 L407.80,147.88 L406.30,147.90 L404.80,147.91 L403.30,147.93 L401.80,147.95 L400.30,147.96 L398.80,147.98 L397.30,148.00Z" fill="#00ff00"/>
<clipPath id="c397"><path d="M397.30,131.00 L398.80,131.18 L400.30,131.37 L401.80,131.55 L403.30,131.74 L404.80,131.92 L406.30,132.11 L407.80,132.30 L409.30,132.50 L410.80,132.69 L412.30,132.88 L413.80,133.08 L415.30,133.28 L416.80,133.48 L418.30,133.68 L419.80,133.88 L421.30,134.08 L422.80,134.29 L424.30,134.50 L425.80,134.70 L427.30,134.91 L428.80,135.12 L430.30,135.33 L431.80,135.54 L433.30,135.75 L434.80,135.96 L436.30,136.18 L437.80,136.39 L439.30,136.61 L440.80,136.83 L442.30,137.05 L443.80,137.27 L445.30,137.50 L446.80,137.73 L448.30,137.96 L449.80,138.19 L451.30,138.43 L452.80,138.67 L454.30,138.92 L455.80,139.16 L457.30,139.42 L458.80,139.68 L460.30,139.95 L461.80,140.22 L463.30,140.51 L464.80,140.80 L466.30,141.09 L467.80,141.39 L469.30,141.70 L470.80,142.01 L472.30,142.32 L473.80,142.63 L475.30,142.94 L476.80,143.26 L478.30,143.57 L479.80,143.88 L481.30,144.18 L482.80,144.48 L484.30,144.78 L485.80,145.08 L487.30,145.36 L488.80,145.64 L490.30,145.91 L491.80,146.17 L493.30,146.42 L494.80,146.65 L496.30,146.88 L497.80,147.11 L499.30,147.33 L500.80,147.56 L502.30,147.80 L503.80,148.05 L505.30,148.32 L506.80,148.60 L508.30,148.90 L509.80,149.22 L511.30,149.56 L512.80,149.91 L514.30,150.27 L515.80,150.65 L517.30,151.04 L518.80,151.44 L520.30,151.86 L521.80,152.28 L523.30,152.71 L524.80,153.16 L526.30,153.64 L527.80,154.14 L529.30,154.66 L530.80,155.19 L532.30,155.74 L533.80,156.30 L535.30,156.85 L536.80,157.41 L538.30,157.95 L539.80,158.49 L541.30,159.01 L542.80,159.53 L544.30,160.04 L545.80,160.54 L547.30,161.05 L548.80,161.55 L550.30,162.06 L551.80,162.58 L553.30,163.10 L554.80,163.63 L556.30,164.17 L557.80,164.72 L559.30,165.28 L560.80,165.85 L562.30,166.43 L563.80,167.01 L565.30,167.60 L566.80,168.20 L568.30,168.81 L569.80,169.42 L571.30,170.05 L572.80,170.69 L574.30,171.33 L575.80,171.99 L577.30,172.66 L578.80,173.35 L580.30,174.05 L581.80,174.75 L583.30,175.47 L584.80,176.19 L586.30,176.91 L587.80,177.64 L589.30,178.37 L590.80,179.10 L592.30,179.83 L593.80,180.56 L595.30,181.29 L596.80,182.02 L598.30,182.77 L599.80,183.52 L601.30,184.28 L602.80,185.05 L604.30,185.84 L605.80,186.64 L607.30,187.45 L608.80,188.26 L610.30,189.09 L611.80,189.93 L613.30,190.77 L614.80,191.64 L616.30,192.51 L617.80,193.40 L619.30,194.30 L620.80,195.23 L622.30,196.17 L623.80,197.13 L625.30,198.12 L626.80,199.13 L628.30,200.16 L629.80,201.20 L631.30,202.26 L632.80,203.32 L634.30,204.40 L635.80,205.47 L637.30,206.55 L638.80,207.63 L640.30,208.72 L641.80,209.83 L643.30,210.94 L644.80,212.06 L646.30,213.19 L647.80,214.33 L649.30,215.47 L650.80,216.61 L652.30,217.75 L653.80,218.89 L655.30,220.03 L656.80,221.25 L658.30,222.53 L659.80,223.79 L661.30,224.94 L662.80,225.89 L664.30,226.64 L665.80,227.36 L667.30,228.00 L668.80,228.45 L670.30,228.60 L671.80,228.27 L673.30,227.47 L674.80,226.34 L676.30,224.51 L677.80,221.13 L679.30,216.98 L680.80,212.13 L682.30,206.11 L683.00,203.00 L683.00,270.20 L682.30,270.49 L680.80,270.86 L679.30,270.82 L677.80,270.47 L676.30,270.00 L674.80,269.36 L673.30,268.54 L671.80,267.60 L670.30,266.50 L668.80,265.19 L667.30,263.73 L665.80,262.16 L664.30,260.56 L662.80,258.95 L661.30,257.25 L659.80,255.46 L658.30,253.62 L656.80,251.77 L655.30,249.96 L653.80,248.19 L652.30,246.42 L650.80,244.66 L649.30,242.91 L647.80,241.18 L646.30,239.46 L644.80,237.72 L643.30,235.97 L641.80,234.25 L640.30,232.58 L638.80,231.00 L637.30,229.52 L635.80,228.10 L634.30,226.72 L632.80,225.38 L631.30,224.07 L629.80,222.80 L628.30,221.55 L626.80,220.32 L625.30,219.11 L623.80,217.91 L622.30,216.71 L620.80,215.52 L619.30,214.33 L617.80,213.13 L616.30,211.94 L614.80,210.76 L613.30,209.60 L611.80,208.46 L610.30,207.36 L608.80,206.30 L607.30,205.29 L605.80,204.33 L604.30,203.43 L602.80,202.59 L601.30,201.81 L599.80,201.07 L598.30,200.36 L596.80,199.67 L595.30,198.98 L593.80,198.28 L592.30,197.56 L590.80,196.80 L589.30,196.01 L587.80,195.20 L586.30,194.37 L584.80,193.53 L583.30,192.68 L581.80,191.83 L580.30,190.98 L578.80,190.15 L577.30,189.33 L575.80,188.53 L574.30,187.75 L572.80,187.00 L571.30,186.26 L569.80,185.52 L568.30,184.80 L566.80,184.09 L565.30,183.38 L563.80,182.69 L562.30,182.01 L560.80,181.35 L559.30,180.69 L557.80,180.05 L556.30,179.42 L554.80,178.80 L553.30,178.19 L551.80,177.59 L550.30,177.00 L548.80,176.41 L547.30,175.84 L545.80,175.29 L544.30,174.74 L542.80,174.21 L541.30,173.70 L539.80,173.20 L538.30,172.72 L536.80,172.25 L535.30,171.80 L533.80,171.36 L532.30,170.92 L530.80,170.49 L529.30,170.07 L527.80,169.66 L526.30,169.24 L524.80,168.83 L523.30,168.42 L521.80,168.00 L520.30,167.60 L518.80,167.19 L517.30,166.79 L515.80,166.39 L514.30,165.99 L512.80,165.60 L511.30,165.22 L509.80,164.84 L508.30,164.47 L506.80,164.10 L505.30,163.74 L503.80,163.38 L502.30,163.02 L500.80,162.67 L499.30,162.32 L497.80,161.98 L496.30,161.65 L494.80,161.32 L493.30,161.01 L491.80,160.70 L490.30,160.40 L488.80,160.11 L487.30,159.82 L485.80,159.53 L484.30,159.24 L482.80,158.96 L481.30,158.68 L479.80,158.41 L478.30,158.13 L476.80,157.87 L475.30,157.60 L473.80,157.34 L472.30,157.09 L470.80,156.83 L469.30,156.59 L467.80,156.35 L466.30,156.11 L464.80,155.88 L463.30,155.65 L461.80,155.43 L460.30,155.22 L458.80,155.01 L457.30,154.81 L455.80,154.62 L454.30,154.43 L452.80,154.24 L451.30,154.06 L449.80,153.89 L448.30,153.71 L446.80,153.55 L445.30,153.38 L443.80,153.22 L442.30,153.06 L440.80,152.90 L439.30,152.75 L437.80,152.60 L436.30,152.44 L434.80,152.30 L433.30,152.15 L431.80,152.00 L430.30,151.85 L428.80,151.71 L427.30,151.56 L425.80,151.42 L424.30,151.27 L422.80,151.12 L421.30,150.98 L419.80,150.83 L418.30,150.69 L416.80,150.54 L415.30,150.40 L413.80,150.26 L412.30,150.12 L410.80,149.99 L409.30,149.85 L407.80,149.71 L406.30,149.58 L404.80,149.45 L403.30,149.32 L401.80,149.18 L400.30,149.06 L398.80,148.93 L397.30,148.80Z"/></clipPath>
<path d="M397.30,57.25L683.00,-106.60M397.30,60.75L683.00,-103.10M397.30,64.25L683.00,-99.60M397.30,67.75L683.00,-96.10M397.30,71.25L683.00,-92.60M397.30,74.75L683.00,-89.10M397.30,78.25L683.00,-85.60M397.30,81.75L683.00,-82.10M397.30,85.25L683.00,-78.60M397.30,88.75L683.00,-75.10M397.30,92.25L683.00,-71.60M397.30,95.75L683.00,-68.10M397.30,99.25L683.00,-64.60M397.30,102.75L683.00,-61.10M397.30,106.25L683.00,-57.60M397.30,109.75L683.00,-54.10M397.30,113.25L683.00,-50.60M397.30,116.75L683.00,-47.10M397.30,120.25L683.00,-43.60M397.30,123.75L683.00,-40.10M397.30,127.25L683.00,-36.60M397.30,130.75L683.00,-33.10M397.30,134.25L683.00,-29.60M397.30,137.75L683.00,-26.10M397.30,141.25L683.00,-22.60M397.30,144.75L683.00,-19.10M397.30,148.25L683.00,-15.60M397.30,151.75L683.00,-12.10M397.30,155.25L683.00,-8.60M397.30,158.75L683.00,-5.10M397.30,162.25L683.00,-1.60M397.30,165.75L683.00,1.90M397.30,169.25L683.00,5.40M397.30,172.75L683.00,8.90M397.30,176.25L683.00,12.40M397.30,179.75L683.00,15.90M397.30,183.25L683.00,19.40M397.30,186.75L683.00,22.90M397.30,190.25L683.00,26.40M397.30,193.75L683.00,29.90M397.30,197.25L683.00,33.40M397.30,200.75L683.00,36.90M397.30,204.25L683.00,40.40M397.30,207.75L683.00,43.90M397.30,211.25L683.00,47.40M397.30,214.75L683.00,50.90M397.30,218.25L683.00,54.40M397.30,221.75L683.00,57.90M397.30,225.25L683.00,61.40M397.30,228.75L683.00,64.90M397.30,232.25L683.00,68.40M397.30,235.75L683.00,71.90M397.30,239.25L683.00,75.40M397.30,242.75L683.00,78.90M397.30,246.25L683.00,82.40M397.30,249.75L683.00,85.90M397.30,253.25L683.00,89.40M397.30,256.75L683.00,92.90M397.30,260.25L683.00,96.40M397.30,263.75L683.00,99.90M397.30,267.25L683.00,103.40M397.30,270.75L683.00,106.90M397.30,274.25L683.00,110.40M397.30,277.75L683.00,113.90M397.30,281.25L683.00,117.40M397.30,284.75L683.00,120.90M397.30,288.25L683.00,124.40M397.30,291.75L683.00,127.90M397.30,295.25L683.00,131.40M397.30,298.75L683.00,134.90M397.30,302.25L683.00,138.40M397.30,305.75L683.00,141.90M397.30,309.25L683.00,145.40M397.30,312.75L683.00,148.90M397.30,316.25L683.00,152.40M397.30,319.75L683.00,155.90M397.30,323.25L683.00,159.40M397.30,326.75L683.00,162.90M397.30,330.25L683.00,166.40M397.30,333.75L683.00,169.90M397.30,337.25L683.00,173.40M397.30,340.75L683.00,176.90M397.30,344.25L683.00,180.40M397.30,347.75L683.00,183.90M397.30,351.25L683.00,187.40M397.30,354.75L683.00,190.90M397.30,358.25L683.00,194.40M397.30,361.75L683.00,197.90M397.30,365.25L683.00,201.40M397.30,368.75L683.00,204.90M397.30,372.25L683.00,208.40M397.30,375.75L683.00,211.90M397.30,379.25L683.00,215.40M397.30,382.75L683.00,218.90M397.30,386.25L683.00,222.40M397.30,389.75L683.00,225.90M397.30,393.25L683.00,229.40M397.30,396.75L683.00,232.90M397.30,400.25L683.00,236.40M397.30,403.75L683.00,239.90M397.30,407.25L683.00,243.40M397.30,410.75L683.00,246.90M397.30,414.25L683.00,250.40M397.30,417.75L683.00,253.90M397.30,421.25L683.00,257.40M397.30,424.75L683.00,260.90M397.30,428.25L683.00,264.40M397.30,431.75L683.00,267.90M397.30,435.25L683.00,271.40M397.30,438.75L683.00,274.90M397.30,442.25L683.00,278.40M397.30,445.75L683.00,281.90M397.30,449.25L683.00,285.40M397.30,452.75L683.00,288.90M397.30,456.25L683.00,292.40" clip-path="url(#c397)" fill="none" stroke="#0000ff" stroke-width="0.82"/>
<path d="M397.30,131.00 L398.80,131.18 L400.30,131.37 L401.80,131.55 L403.30,131.74 L404.80,131.92 L406.30,132.11 L407.80,132.30 L409.30,132.50 L410.80,132.69 L412.30,132.88 L413.80,133.08 L415.30,133.28 L416.80,133.48 L418.30,133.68 L419.80,133.88 L421.30,134.08 L422.80,134.29 L424.30,134.50 L425.80,134.70 L427.30,134.91 L428.80,135.12 L430.30,135.33 L431.80,135.54 L433.30,135.75 L434.80,135.96 L436.30,136.18 L437.80,136.39 L439.30,136.61 L440.80,136.83 L442.30,137.05 L443.80,137.27 L445.30,137.50 L446.80,137.73 L448.30,137.96 L449.80,138.19 L451.30,138.43 L452.80,138.67 L454.30,138.92 L455.80,139.16 L457.30,139.42 L458.80,139.68 L460.30,139.95 L461.80,140.22 L463.30,140.51 L464.80,140.80 L466.30,141.09 L467.80,141.39 L469.30,141.70 L470.80,142.01 L472.30,142.32 L473.80,142.63 L475.30,142.94 L476.80,143.26 L478.30,143.57 L479.80,143.88 L481.30,144.18 L482.80,144.48 L484.30,144.78 L485.80,145.08 L487.30,145.36 L488.80,145.64 L490.30,145.91 L491.80,146.17 L493.30,146.42 L494.80,146.65 L496.30,146.88 L497.80,147.11 L499.30,147.33 L500.80,147.56 L502.30,147.80 L503.80,148.05 L505.30,148.32 L506.80,148.60 L508.30,148.90 L509.80,149.22 L511.30,149.56 L512.80,149.91 L514.30,150.27 L515.80,150.65 L517.30,151.04 L518.80,151.44 L520.30,151.86 L521.80,152.28 L523.30,152.71 L524.80,153.16 L526.30,153.64 L527.80,154.14 L529.30,154.66 L530.80,155.19 L532.30,155.74 L533.80,156.30 L535.30,156.85 L536.80,157.41 L538.30,157.95 L539.80,158.49 L541.30,159.01 L542.80,159.53 L544.30,160.04 L545.80,160.54 L547.30,161.05 L548.80,161.55 L550.30,162.06 L551.80,162.58 L553.30,163.10 L554.80,163.63 L556.30,164.17 L557.80,164.72 L559.30,165.28 L560.80,165.85 L562.30,166.43 L563.80,167.01 L565.30,167.60 L566.80,168.20 L568.30,168.81 L569.80,169.42 L571.30,170.05 L572.80,170.69 L574.30,171.33 L575.80,171.99 L577.30,172.66 L578.80,173.35 L580.30,174.05 L581.80,174.75 L583.30,175.47 L584.80,176.19 L586.30,176.91 L587.80,177.64 L589.30,178.37 L590.80,179.10 L592.30,179.83 L593.80,180.56 L595.30,181.29 L596.80,182.02 L598.30,182.77 L599.80,183.52 L601.30,184.28 L602.80,185.05 L604.30,185.84 L605.80,186.64 L607.30,187.45 L608.80,188.26 L610.30,189.09 L611.80,189.93 L613.30,190.77 L614.80,191.64 L616.30,192.51 L617.80,193.40 L619.30,194.30 L620.80,195.23 L622.30,196.17 L623.80,197.13 L625.30,198.12 L626.80,199.13 L628.30,200.16 L629.80,201.20 L631.30,202.26 L632.80,203.32 L634.30,204.40 L635.80,205.47 L637.30,206.55 L638.80,207.63 L640.30,208.72 L641.80,209.83 L643.30,210.94 L644.80,212.06 L646.30,213.19 L647.80,214.33 L649.30,215.47 L650.80,216.61 L652.30,217.75 L653.80,218.89 L655.30,220.03 L656.80,221.25 L658.30,222.53 L659.80,223.79 L661.30,224.94 L662.80,225.89 L664.30,226.64 L665.80,227.36 L667.30,228.00 L668.80,228.45 L670.30,228.60 L671.80,228.27 L673.30,227.47 L674.80,226.34 L676.30,224.51 L677.80,221.13 L679.30,216.98 L680.80,212.13 L682.30,206.11 L683.00,203.00" fill="none" stroke="#0000ff" stroke-width="0.85"/>
<path d="M397.30,148.80 L398.80,148.93 L400.30,149.06 L401.80,149.18 L403.30,149.32 L404.80,149.45 L406.30,149.58 L407.80,149.71 L409.30,149.85 L410.80,149.99 L412.30,150.12 L413.80,150.26 L415.30,150.40 L416.80,150.54 L418.30,150.69 L419.80,150.83 L421.30,150.98 L422.80,151.12 L424.30,151.27 L425.80,151.42 L427.30,151.56 L428.80,151.71 L430.30,151.85 L431.80,152.00 L433.30,152.15 L434.80,152.30 L436.30,152.44 L437.80,152.60 L439.30,152.75 L440.80,152.90 L442.30,153.06 L443.80,153.22 L445.30,153.38 L446.80,153.55 L448.30,153.71 L449.80,153.89 L451.30,154.06 L452.80,154.24 L454.30,154.43 L455.80,154.62 L457.30,154.81 L458.80,155.01 L460.30,155.22 L461.80,155.43 L463.30,155.65 L464.80,155.88 L466.30,156.11 L467.80,156.35 L469.30,156.59 L470.80,156.83 L472.30,157.09 L473.80,157.34 L475.30,157.60 L476.80,157.87 L478.30,158.13 L479.80,158.41 L481.30,158.68 L482.80,158.96 L484.30,159.24 L485.80,159.53 L487.30,159.82 L488.80,160.11 L490.30,160.40 L491.80,160.70 L493.30,161.01 L494.80,161.32 L496.30,161.65 L497.80,161.98 L499.30,162.32 L500.80,162.67 L502.30,163.02 L503.80,163.38 L505.30,163.74 L506.80,164.10 L508.30,164.47 L509.80,164.84 L511.30,165.22 L512.80,165.60 L514.30,165.99 L515.80,166.39 L517.30,166.79 L518.80,167.19 L520.30,167.60 L521.80,168.00 L523.30,168.42 L524.80,168.83 L526.30,169.24 L527.80,169.66 L529.30,170.07 L530.80,170.49 L532.30,170.92 L533.80,171.36 L535.30,171.80 L536.80,172.25 L538.30,172.72 L539.80,173.20 L541.30,173.70 L542.80,174.21 L544.30,174.74 L545.80,175.29 L547.30,175.84 L548.80,176.41 L550.30,177.00 L551.80,177.59 L553.30,178.19 L554.80,178.80 L556.30,179.42 L557.80,180.05 L559.30,180.69 L560.80,181.35 L562.30,182.01 L563.80,182.69 L565.30,183.38 L566.80,184.09 L568.30,184.80 L569.80,185.52 L571.30,186.26 L572.80,187.00 L574.30,187.75 L575.80,188.53 L577.30,189.33 L578.80,190.15 L580.30,190.98 L581.80,191.83 L583.30,192.68 L584.80,193.53 L586.30,194.37 L587.80,195.20 L589.30,196.01 L590.80,196.80 L592.30,197.56 L593.80,198.28 L595.30,198.98 L596.80,199.67 L598.30,200.36 L599.80,201.07 L601.30,201.81 L602.80,202.59 L604.30,203.43 L605.80,204.33 L607.30,205.29 L608.80,206.30 L610.30,207.36 L611.80,208.46 L613.30,209.60 L614.80,210.76 L616.30,211.94 L617.80,213.13 L619.30,214.33 L620.80,215.52 L622.30,216.71 L623.80,217.91 L625.30,219.11 L626.80,220.32 L628.30,221.55 L629.80,222.80 L631.30,224.07 L632.80,225.38 L634.30,226.72 L635.80,228.10 L637.30,229.52 L638.80,231.00 L640.30,232.58 L641.80,234.25 L643.30,235.97 L644.80,237.72 L646.30,239.46 L647.80,241.18 L649.30,242.91 L650.80,244.66 L652.30,246.42 L653.80,248.19 L655.30,249.96 L656.80,251.77 L658.30,253.62 L659.80,255.46 L661.30,257.25 L662.80,258.95 L664.30,260.56 L665.80,262.16 L667.30,263.73 L668.80,265.19 L670.30,266.50 L671.80,267.60 L673.30,268.54 L674.80,269.36 L676.30,270.00 L677.80,270.47 L679.30,270.82 L680.80,270.86 L682.30,270.49 L683.00,270.20" fill="none" stroke="#0000ff" stroke-width="0.85"/>
<path d="M397.3,265.54h3.6M397.3,246.30h3.6M397.3,227.06h3.6M397.3,207.82h3.6M397.3,188.58h3.6M397.3,169.34h3.6M397.3,150.10h3.6M397.3,130.86h3.6M397.3,111.62h3.6M397.3,92.38h3.6M397.3,73.14h3.6M397.3,53.90h3.6M397.3,34.66h3.6M397.3,150.10h7.2M397.3,53.90h7.2M397.3,246.30h7.2M419.43,284.6v-3.5M434.01,284.6v-3.5M444.35,284.6v-3.5M452.37,284.6v-3.5M458.93,284.6v-3.5M464.47,284.6v-3.5M469.28,284.6v-3.5M473.51,284.6v-3.5M477.30,284.6v-7.2M502.23,284.6v-3.5M516.81,284.6v-3.5M527.15,284.6v-3.5M535.17,284.6v-3.5M541.73,284.6v-3.5M547.27,284.6v-3.5M552.08,284.6v-3.5M556.31,284.6v-3.5M560.10,284.6v-7.2M585.03,284.6v-3.5M599.61,284.6v-3.5M609.95,284.6v-3.5M617.97,284.6v-3.5M624.53,284.6v-3.5M630.07,284.6v-3.5M634.88,284.6v-3.5M639.11,284.6v-3.5M642.90,284.6v-7.2M667.83,284.6v-3.5" fill="none" stroke="#000" stroke-width="1"/>
<path d="M397.3,15.0V285.40000000000003" fill="none" stroke="#000" stroke-width="1.1"/>
<path d="M396.8,284.85H683.0" fill="none" stroke="#000" stroke-width="1.2"/>
<text x="390.4" y="58.3" text-anchor="end" class="t">1.5</text>
<text x="390.4" y="154.5" text-anchor="end" class="t">1</text>
<text x="390.4" y="250.7" text-anchor="end" class="t">0.5</text>
<text x="479.5" y="304.9" text-anchor="end" class="t">10</text>
<text x="478.6" y="299.5" class="sup">-3</text>
<text x="562.3" y="304.9" text-anchor="end" class="t">10</text>
<text x="561.4" y="299.5" class="sup">-2</text>
<text x="645.1" y="304.9" text-anchor="end" class="t">10</text>
<text x="644.2" y="299.5" class="sup">-1</text>
<text x="682.4" y="315.2" text-anchor="end" class="xl">x</text>
<text x="394.1" y="10.80" class="t">CMS</text>
<text x="684.0" y="10.80" text-anchor="end" class="t">Hessian uncertainties</text>
<g transform="translate(363.9,26.8) rotate(-90)"><text x="0" y="0" class="yl">r</text><text x="5.4" y="4.6" class="ysub">s</text></g>
<clipPath id="c397l"><rect x="419.7" y="36.80" width="13.7" height="9.7"/></clipPath>
<path d="M419.70,34.28L433.40,26.42M419.70,37.78L433.40,29.92M419.70,41.28L433.40,33.42M419.70,44.78L433.40,36.92M419.70,48.28L433.40,40.42M419.70,51.78L433.40,43.92M419.70,55.28L433.40,47.42M419.70,58.78L433.40,50.92" clip-path="url(#c397l)" fill="none" stroke="#0000ff" stroke-width="0.82"/>
<rect x="419.7" y="36.80" width="13.7" height="9.7" fill="none" stroke="#222" stroke-width="0.75"/>
<rect x="419.7" y="62.80" width="13.7" height="10" fill="#b3b3b3" stroke="#222" stroke-width="0.75"/>
<rect x="419.7" y="89.50" width="13.7" height="9.6" fill="#00ff00" stroke="#222" stroke-width="0.75"/>
<text x="441.3" y="45.80" class="lg">CMS, this analysis</text>
<text x="441.3" y="71.70" class="lg">ABMP16nlo</text>
<text x="441.3" y="98.10" class="lg">ATLASepWZ16nnlo</text>
<text x="599.6" y="47.7" class="mu">μ</text><text x="606.4" y="42.6" class="sup2">2</text><text x="606.9" y="52" class="sub2">f</text><text x="613.8" y="47.7" class="big">= m</text><text x="639.3" y="42.4" class="sup2">2</text><text x="636.9" y="52.2" class="sub2">W</text>
</svg>
</body></html>
